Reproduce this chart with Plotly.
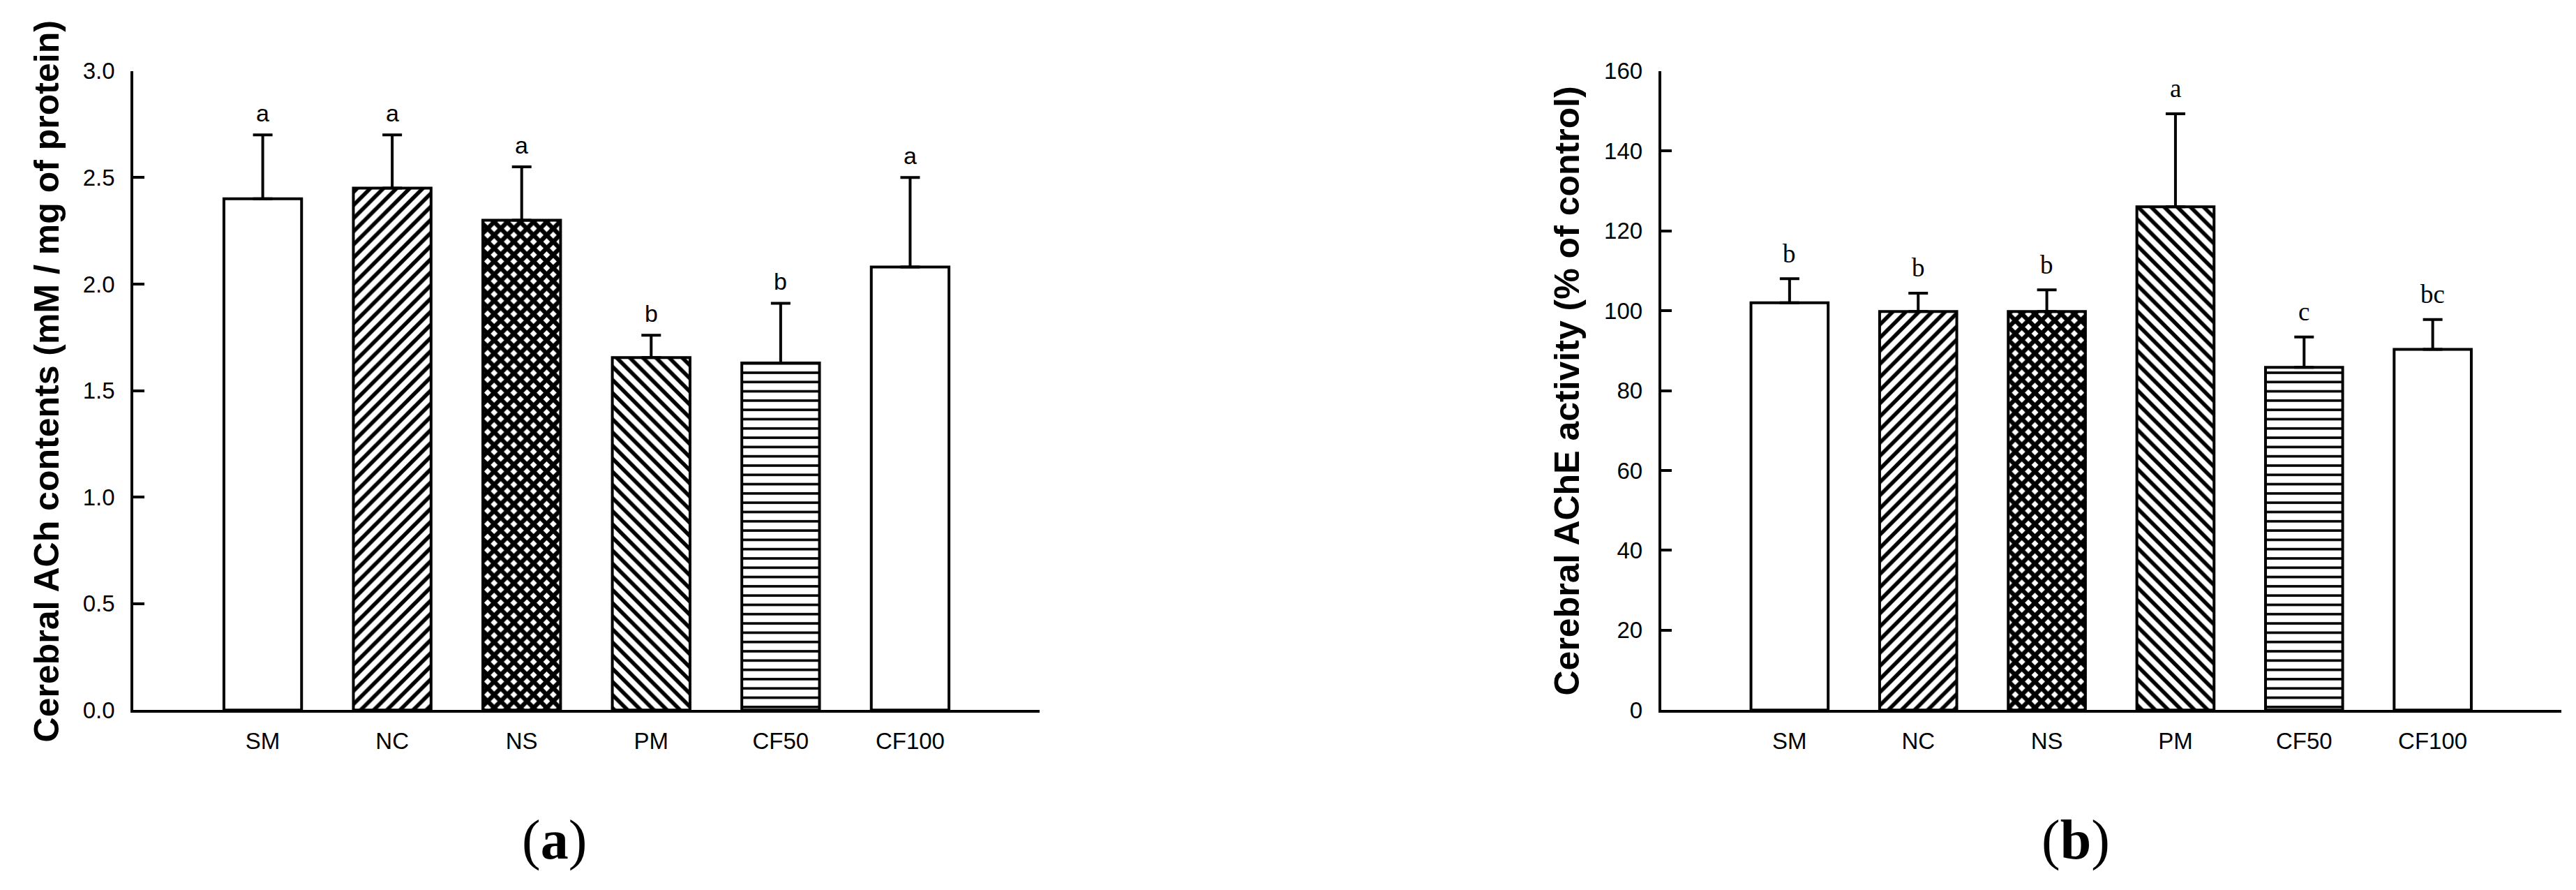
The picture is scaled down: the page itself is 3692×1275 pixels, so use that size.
import plotly.graph_objects as go

# ---------------- data ----------------
groups = ["SM", "NC", "NS", "PM", "CF50", "CF100"]

ach_mean = [2.40, 2.45, 2.30, 1.655, 1.63, 2.08]
ach_sem = [0.30, 0.25, 0.25, 0.105, 0.28, 0.42]
ach_letters = ["a", "a", "a", "b", "b", "a"]

ache_mean = [102.0, 99.8, 99.8, 126.0, 85.8, 90.3]
ache_sem = [6.0, 4.6, 5.4, 23.3, 7.6, 7.5]
ache_letters = ["b", "b", "b", "a", "c", "bc"]

ach_ticks = [0.0, 0.5, 1.0, 1.5, 2.0, 2.5, 3.0]
ache_ticks = [0, 20, 40, 60, 80, 100, 120, 140, 160]

ach_title = "Cerebral ACh contents (mM / mg of protein)"
ache_title = "Cerebral AChE activity (% of control)"
panel_labels = ["(<b>a</b>)", "(<b>b</b>)"]

# ---------------- styles ----------------
W, H = 3692, 1275
SANS = "Liberation Sans, Arial, sans-serif"
SERIF = "Liberation Serif, Times New Roman, serif"
pattern_shapes = ["", "/", "x", "\\", "-", ""]
pattern_solidity = [0.3, 0.42, 0.72, 0.42, 0.27, 0.3]
pattern_size = [13.3] * 6

fig = go.Figure()


def add_bars(means, sems, xa, ya):
    fig.add_trace(go.Bar(
        x=groups, y=means, xaxis=xa, yaxis=ya, width=0.6,
        marker=dict(
            color="white",
            line=dict(color="black", width=4),
            pattern=dict(shape=pattern_shapes, size=pattern_size,
                         solidity=pattern_solidity, fgcolor="black",
                         fgopacity=1, bgcolor="white"),
        ),
        error_y=dict(type="data", symmetric=False, array=sems,
                     arrayminus=[0] * len(sems), color="black",
                     thickness=4, width=14),
        showlegend=False, hoverinfo="skip",
    ))


add_bars(ach_mean, ach_sem, "x", "y")
add_bars(ache_mean, ache_sem, "x2", "y2")

ydom = [1 - 1021 / H, 1 - 78 / H]
xdom1 = [183 / W, 1482 / W]
xdom2 = [2372.5 / W, 3663 / W]

common_x = dict(type="category", range=[-1, 6], showline=True, linecolor="black",
                linewidth=3.5, ticks="", showgrid=False, zeroline=False,
                tickfont=dict(family=SANS, size=33, color="black"),
                ticklabelstandoff=12)
common_y = dict(showline=True, linecolor="black", linewidth=3.5, ticks="inside",
                ticklen=16, tickwidth=3.5, tickcolor="black", showgrid=False,
                zeroline=False, tickfont=dict(family=SANS, size=33, color="black"),
                ticklabelstandoff=16)

fig.update_layout(
    width=W, height=H,
    margin=dict(l=0, r=0, t=0, b=0),
    paper_bgcolor="white", plot_bgcolor="white",
    showlegend=False, bargap=0.4,
    xaxis=dict(domain=xdom1, anchor="y", **common_x),
    yaxis=dict(domain=ydom, anchor="x", range=[0, 3.0], tickvals=ach_ticks,
               tickformat=".1f", **common_y),
    xaxis2=dict(domain=xdom2, anchor="y2", **common_x),
    yaxis2=dict(domain=ydom, anchor="x2", range=[0, 160], tickvals=ache_ticks,
                **common_y),
)

ann = []
for g, m, s, t in zip(groups, ach_mean, ach_sem, ach_letters):
    ann.append(dict(x=g, y=m + s, xref="x", yref="y", text=t, showarrow=False,
                    yanchor="middle", yshift=31,
                    font=dict(family=SANS, size=34, color="black")))
for g, m, s, t in zip(groups, ache_mean, ache_sem, ache_letters):
    ann.append(dict(x=g, y=m + s, xref="x2", yref="y2", text=t, showarrow=False,
                    yanchor="middle", yshift=36,
                    font=dict(family=SERIF, size=37, color="black")))

ann.append(dict(x=59 / W, y=1 - 536 / H, xref="paper", yref="paper", text=ach_title,
                textangle=-90, showarrow=False, xanchor="center", yanchor="middle",
                font=dict(family=SANS, size=50, color="black", weight="bold")))
ann.append(dict(x=2238.5 / W, y=1 - 550 / H, xref="paper", yref="paper", text=ache_title,
                textangle=-90, showarrow=False, xanchor="center", yanchor="middle",
                font=dict(family=SANS, size=50, color="black", weight="bold")))
for px, lab in zip([786, 2967], panel_labels):
    ann.append(dict(x=px / W, y=1 - 1213 / H, xref="paper", yref="paper", text=lab,
                    showarrow=False, xanchor="center", yanchor="middle",
                    font=dict(family=SERIF, size=80, color="black")))

fig.update_layout(annotations=ann)
fig.write_html("out.html")
